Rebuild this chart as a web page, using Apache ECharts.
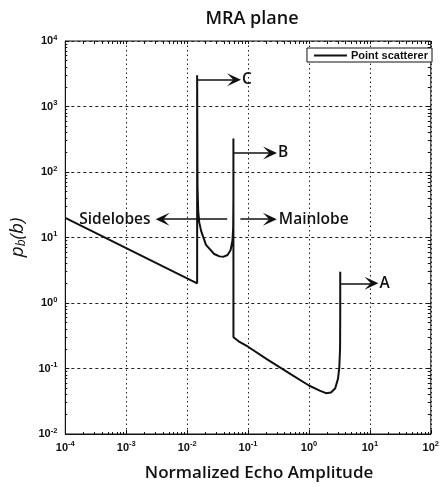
<!DOCTYPE html>
<html><head><meta charset="utf-8">
<script src="https://cdn.jsdelivr.net/npm/echarts@6/dist/echarts.min.js"></script>
<style>html,body{margin:0;padding:0;background:#fff}#c{width:442px;height:487px}</style>
</head><body><div id="c"></div>
<script>
// Curve: Normalized Echo Amplitude (b) vs p_b(b)
const amplitude = [1e-4, 0.0146, 0.0146, 0.0148, 0.0152, 0.0158, 0.017, 0.0204, 0.0278, 0.034, 0.040, 0.046, 0.0516, 0.0555, 0.057, 0.0575, 0.0575, 0.0576,
  0.058, 0.07, 0.1, 0.2, 0.5, 1.0, 1.5, 1.9, 2.3, 2.7, 3.0, 3.15, 3.24, 3.26, 3.26];
const density = [20, 2, 3000, 60, 25, 17, 12.5, 7.7, 5.6, 5.15, 5.1, 5.4, 6.4, 9, 14, 40, 325, 0.3,
  0.29, 0.26, 0.215, 0.14, 0.082, 0.055, 0.046, 0.042, 0.043, 0.05, 0.07, 0.105, 0.2, 0.6, 3.0];
const seriesName = 'Point scatterer';

// Annotations (arrows + labels)
const annoLabels = ['C', 'B', 'A', 'Sidelobes', 'Mainlobe'];
const annoFromX = [0.0146, 0.0575, 3.26, 0.0455, 0.0748];
const annoToX = [0.0588, 0.229, 10.6, 0.00395, 0.228];
const annoY = [2570, 195, 2.0, 19, 19];
const annoGap = [8, 8, 8, 12, 9];

// Tick labels (powers of ten)
const xTickExp = [-4, -3, -2, -1, 0, 1, 2];
const yTickExp = [-2, -1, 0, 1, 2, 3, 4];
const minorMultipliers = [2, 3, 4, 5, 6, 7, 8, 9];

function minorTicks(exps) {
  const out = [];
  exps.slice(0, -1).forEach(e => minorMultipliers.forEach(m => out.push(m * Math.pow(10, e))));
  return out;
}
const xMinor = minorTicks(xTickExp);
const yMinor = minorTicks(yTickExp);
const xMajor = xTickExp.map(e => Math.pow(10, e));
const yMajor = yTickExp.map(e => Math.pow(10, e));

const FONT = 'Open Sans';
const INK = '#111';
const chevron = 'path://M5,0 L10,10 L5,5.5 L0,10 Z';

function powLabel(exps) {
  return function (v) {
    const e = Math.round(Math.log10(v));
    if (exps.indexOf(e) < 0) return '';
    return '10{s|' + e + '}';
  };
}
const tickRich = {
  s: { fontSize: 7.5, fontWeight: 'bold', fontFamily: 'Liberation Sans', color: INK, verticalAlign: 'top', padding: [0, 0, 7, 0] }
};

const curve = amplitude.map((x, i) => [x, density[i]]);
const mlData = annoLabels.map((lab, i) => [
  { coord: [annoFromX[i], annoY[i]], symbol: 'none',
    label: { show: true, position: 'end', formatter: lab, distance: annoGap[i],
      fontFamily: FONT, fontSize: 15.5, fontWeight: 600, color: INK } },
  { coord: [annoToX[i], annoY[i]], symbol: chevron }
]);

function tickAxis(kind, position, values, len) {
  return {
    type: 'log', logBase: 10,
    min: kind === 'x' ? 1e-4 : 1e-2, max: kind === 'x' ? 1e2 : 1e4,
    position: position, show: true,
    axisLine: { show: false }, axisLabel: { show: false }, splitLine: { show: false },
    axisTick: { show: true, inside: true, length: len, customValues: values, lineStyle: { color: INK, width: 1 } }
  };
}

const chart = echarts.init(document.getElementById('c'), null, { renderer: 'canvas' });
chart.setOption({
  animation: false,
  backgroundColor: '#fff',
  title: {
    text: 'MRA plane', left: 247, top: 5, textAlign: 'center',
    textStyle: { fontFamily: FONT, fontSize: 18, fontWeight: 600, color: INK }
  },
  legend: {
    data: [seriesName], right: 10, top: 48,
    itemWidth: 33, itemHeight: 2, itemGap: 4,
    icon: 'rect',
    borderColor: INK, borderWidth: 1, borderRadius: 0, padding: [2, 4, 1, 7],
    backgroundColor: '#fff',
    textStyle: { fontFamily: 'Liberation Sans', fontSize: 11, fontWeight: 'bold', color: INK, padding: [0, 0, 0, -1] }
  },
  grid: { left: 63, right: 7, top: 41, bottom: 53, show: true, borderColor: INK, borderWidth: 1, backgroundColor: 'transparent' },
  xAxis: [{
    type: 'log', logBase: 10, min: 1e-4, max: 1e2,
    name: 'Normalized Echo Amplitude', nameLocation: 'middle', nameGap: 31,
    nameTextStyle: { fontFamily: FONT, fontSize: 17, fontWeight: 600, color: INK, padding: [0, 0, 0, 22] },
    axisLine: { show: true, lineStyle: { color: INK, width: 1 } },
    axisTick: { show: true, inside: true, length: 4, lineStyle: { color: INK } },
    axisLabel: { formatter: powLabel(xTickExp), margin: 6, fontFamily: 'Liberation Sans', fontWeight: 'bold', fontSize: 11, color: INK, rich: tickRich },
    splitLine: { show: true, lineStyle: { color: '#222', type: [1.5, 3], width: 1 } }
  },
  tickAxis('x', 'bottom', xMinor, 2),
  tickAxis('x', 'top', xMajor.concat(xMinor), 3)
  ],
  yAxis: [{
    type: 'log', logBase: 10, min: 1e-2, max: 1e4,
    name: '{i|p}{sub|b}{i|(b)}', nameLocation: 'middle', nameGap: 31, nameRotate: 90,
    nameTextStyle: { rich: {
      i: { fontFamily: FONT, fontStyle: 'italic', fontSize: 19, color: INK },
      sub: { fontFamily: FONT, fontStyle: 'italic', fontSize: 12, color: INK, verticalAlign: 'bottom', padding: [8, 0, 0, 0] }
    } },
    axisLine: { show: true, lineStyle: { color: INK, width: 1 } },
    axisTick: { show: true, inside: true, length: 4, lineStyle: { color: INK } },
    axisLabel: { formatter: powLabel(yTickExp), margin: 8, fontFamily: 'Liberation Sans', fontWeight: 'bold', fontSize: 11, color: INK, rich: tickRich },
    splitLine: { show: true, lineStyle: { color: '#222', type: [3, 3], width: 1 } }
  },
  tickAxis('y', 'left', yMinor, 2),
  tickAxis('y', 'right', yMajor.concat(yMinor), 3)
  ],
  series: [{
    name: seriesName, type: 'line', data: curve, showSymbol: false, symbol: 'none',
    xAxisIndex: 0, yAxisIndex: 0,
    lineStyle: { color: INK, width: 2 }, itemStyle: { color: INK },
    markLine: {
      silent: true, animation: false, symbolSize: [13, 14],
      lineStyle: { color: INK, width: 1.5, type: 'solid' },
      data: mlData
    }
  }]
});
</script></body></html>
